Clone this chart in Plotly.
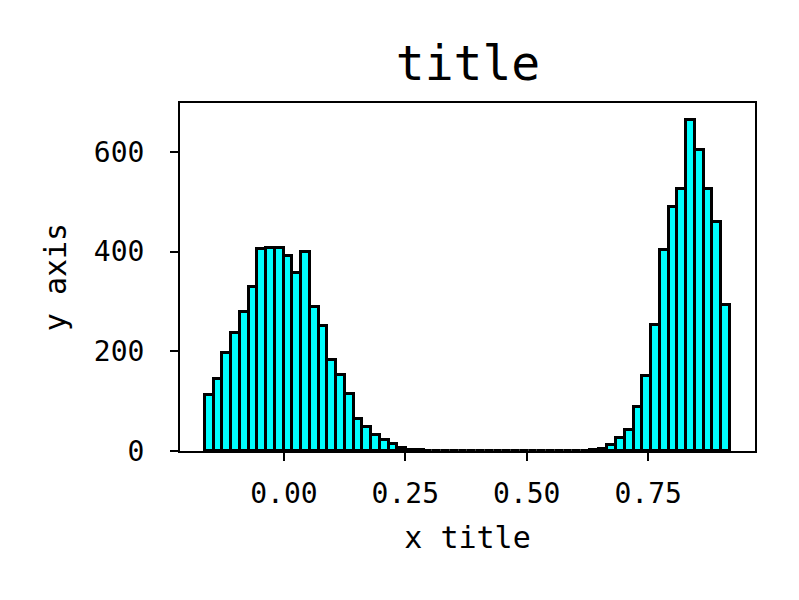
import numpy as np
import plotly.graph_objects as go

# histogram counts, 60 equal bins
bin_low = -0.163
bin_high = 0.918
counts = [
    112, 144, 196, 236, 279, 329, 406, 408, 408, 391, 357, 399, 289, 250, 183,
    152, 115, 65, 48, 32, 22, 14, 7, 3, 2, 1,
    0, 0, 0, 0, 0, 0, 0, 0, 0, 0, 0, 0, 0, 0, 0, 0, 0,
    1, 2, 5, 12, 27, 43, 88, 150, 252, 403, 490, 525, 663, 603, 525, 460, 293,
]
x_ticks = [0.0, 0.25, 0.5, 0.75]
y_ticks = [0, 200, 400, 600]

edges = np.linspace(bin_low, bin_high, len(counts) + 1)
centers = (edges[:-1] + edges[1:]) / 2
width = edges[1] - edges[0]

FONT = "DejaVu Sans Mono"

fig = go.Figure()
fig.add_trace(
    go.Bar(
        x=centers,
        y=counts,
        width=width,
        marker=dict(color="#00ffff", line=dict(color="black", width=3)),
    )
)

axis_style = dict(
    showline=True,
    mirror=True,
    linecolor="black",
    linewidth=2,
    ticks="outside",
    ticklen=8,
    tickwidth=2,
    tickcolor="black",
    showgrid=False,
    zeroline=False,
    tickfont=dict(family=FONT, size=28, color="black"),
)

# page body has an 8px margin, so the margins are shifted to compensate
fig.update_layout(
    width=799,
    height=600,
    paper_bgcolor="white",
    plot_bgcolor="white",
    showlegend=False,
    bargap=0,
    margin=dict(l=172, r=52, t=95, b=157),
    title=dict(
        text="title",
        font=dict(family=FONT, size=48, color="black"),
        x=460 / 799,
        xanchor="center",
        y=1 - 55 / 600,
        yanchor="middle",
    ),
    xaxis=dict(
        axis_style,
        range=[-0.214, 0.970],
        tickvals=x_ticks,
        tickformat=".2f",
        ticklabelstandoff=8,
        title=dict(text="x title", font=dict(family=FONT, size=30, color="black"), standoff=18),
    ),
    yaxis=dict(
        axis_style,
        range=[0, 698],
        tickvals=y_ticks,
        ticklabelstandoff=20,
        title=dict(text="y axis", font=dict(family=FONT, size=30, color="black"), standoff=18),
    ),
)

fig.write_html("out.html")
